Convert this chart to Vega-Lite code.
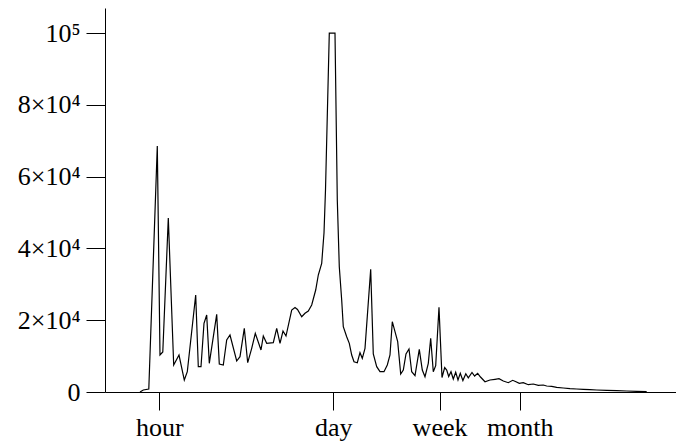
{
  "$schema": "https://vega.github.io/schema/vega-lite/v6.json",
  "width": 571,
  "height": 384,
  "autosize": "none",
  "padding": {"left": 105, "top": 8, "right": 0, "bottom": 49},
  "background": "white",
  "config": {
    "view": {"stroke": null},
    "axis": {
      "grid": false,
      "domainColor": "black",
      "domainWidth": 1,
      "tickColor": "black",
      "tickWidth": 1,
      "labelColor": "black",
      "labelFont": "Liberation Serif",
      "labelFontSize": 26,
      "labelFontWeight": "normal",
      "labelOverlap": false,
      "labelFlush": false,
      "titleFont": "Liberation Serif"
    }
  },
  "data": {
    "values": [
      {"hours": 0.7006, "count": 0},
      {"hours": 0.7442, "count": 557},
      {"hours": 0.8230, "count": 836},
      {"hours": 0.9614, "count": 68536},
      {"hours": 1.0101, "count": 10308},
      {"hours": 1.0632, "count": 11144},
      {"hours": 1.1758, "count": 48476},
      {"hours": 1.2978, "count": 7522},
      {"hours": 1.4300, "count": 10308},
      {"hours": 1.5756, "count": 3343},
      {"hours": 1.6645, "count": 5656},
      {"hours": 1.9409, "count": 27024},
      {"hours": 2.0356, "count": 7049},
      {"hours": 2.1386, "count": 7049},
      {"hours": 2.2592, "count": 19140},
      {"hours": 2.3737, "count": 21452},
      {"hours": 2.4893, "count": 7996},
      {"hours": 2.8502, "count": 21647},
      {"hours": 2.9890, "count": 7801},
      {"hours": 3.2160, "count": 7522},
      {"hours": 3.4223, "count": 14487},
      {"hours": 3.6353, "count": 15880},
      {"hours": 4.1093, "count": 8637},
      {"hours": 4.3652, "count": 9835},
      {"hours": 4.7224, "count": 17747},
      {"hours": 5.0254, "count": 8163},
      {"hours": 5.4069, "count": 12175},
      {"hours": 5.7751, "count": 16354},
      {"hours": 6.4099, "count": 11701},
      {"hours": 6.6853, "count": 15602},
      {"hours": 7.1142, "count": 13568},
      {"hours": 8.0273, "count": 13735},
      {"hours": 8.5426, "count": 17747},
      {"hours": 9.0743, "count": 13568},
      {"hours": 9.5862, "count": 16995},
      {"hours": 10.127, "count": 15602},
      {"hours": 11.240, "count": 22845},
      {"hours": 11.940, "count": 23542},
      {"hours": 12.499, "count": 22985},
      {"hours": 13.497, "count": 20979},
      {"hours": 14.336, "count": 21926},
      {"hours": 15.229, "count": 22567},
      {"hours": 16.206, "count": 24238},
      {"hours": 17.436, "count": 28417},
      {"hours": 18.286, "count": 32596},
      {"hours": 19.460, "count": 35856},
      {"hours": 20.296, "count": 44297},
      {"hours": 20.860, "count": 56277},
      {"hours": 22.362, "count": 100000},
      {"hours": 24.820, "count": 100000},
      {"hours": 25.886, "count": 53491},
      {"hours": 26.850, "count": 34909},
      {"hours": 28.056, "count": 25631},
      {"hours": 28.889, "count": 18193},
      {"hours": 30.744, "count": 15407},
      {"hours": 32.242, "count": 13568},
      {"hours": 33.689, "count": 10308},
      {"hours": 35.136, "count": 8442},
      {"hours": 37.324, "count": 8163},
      {"hours": 39.214, "count": 10949},
      {"hours": 40.899, "count": 9389},
      {"hours": 42.969, "count": 12175},
      {"hours": 47.691, "count": 34184},
      {"hours": 50.015, "count": 10587},
      {"hours": 53.226, "count": 7049},
      {"hours": 56.538, "count": 5656},
      {"hours": 60.830, "count": 5656},
      {"hours": 64.615, "count": 7522},
      {"hours": 67.887, "count": 10308},
      {"hours": 70.806, "count": 19586},
      {"hours": 74.391, "count": 16800},
      {"hours": 78.158, "count": 14014},
      {"hours": 82.567, "count": 5015},
      {"hours": 86.590, "count": 6129},
      {"hours": 90.975, "count": 10587},
      {"hours": 96.107, "count": 11980},
      {"hours": 100.97, "count": 5656},
      {"hours": 107.26, "count": 4541},
      {"hours": 116.04, "count": 11896},
      {"hours": 122.59, "count": 6129},
      {"hours": 128.78, "count": 4263},
      {"hours": 136.81, "count": 7996},
      {"hours": 142.94, "count": 14961},
      {"hours": 149.91, "count": 5656},
      {"hours": 156.63, "count": 7327},
      {"hours": 166.38, "count": 23597},
      {"hours": 175.77, "count": 4040},
      {"hours": 184.67, "count": 6826},
      {"hours": 191.56, "count": 6129},
      {"hours": 198.70, "count": 4318},
      {"hours": 207.23, "count": 5656},
      {"hours": 216.14, "count": 3622},
      {"hours": 225.84, "count": 5516},
      {"hours": 235.54, "count": 3343},
      {"hours": 245.67, "count": 5210},
      {"hours": 257.64, "count": 3204},
      {"hours": 271.67, "count": 5071},
      {"hours": 284.39, "count": 3956},
      {"hours": 304.31, "count": 5433},
      {"hours": 319.13, "count": 4458},
      {"hours": 337.75, "count": 5210},
      {"hours": 355.51, "count": 4179},
      {"hours": 386.02, "count": 2870},
      {"hours": 422.99, "count": 3343},
      {"hours": 463.52, "count": 3538},
      {"hours": 498.70, "count": 3705},
      {"hours": 539.51, "count": 3065},
      {"hours": 591.20, "count": 2591},
      {"hours": 640.75, "count": 3260},
      {"hours": 680.62, "count": 2870},
      {"hours": 722.99, "count": 2424},
      {"hours": 777.88, "count": 2591},
      {"hours": 852.39, "count": 2034},
      {"hours": 934.02, "count": 2229},
      {"hours": 1023.5, "count": 1867},
      {"hours": 1121.5, "count": 1950},
      {"hours": 1193.5, "count": 1672},
      {"hours": 1307.8, "count": 1588},
      {"hours": 1433.1, "count": 1309},
      {"hours": 1617.1, "count": 1114},
      {"hours": 1827.9, "count": 919},
      {"hours": 2066.2, "count": 836},
      {"hours": 2331.4, "count": 752},
      {"hours": 2635.5, "count": 641},
      {"hours": 2979.1, "count": 557},
      {"hours": 3577.1, "count": 474},
      {"hours": 4295.2, "count": 362},
      {"hours": 5157.3, "count": 279},
      {"hours": 6194.4, "count": 195},
      {"hours": 7436.2, "count": 84}
    ]
  },
  "mark": {"type": "line", "color": "black", "strokeWidth": 1.2, "clip": true},
  "encoding": {
    "x": {
      "field": "hours",
      "type": "quantitative",
      "scale": {"type": "log", "domain": [0.3693, 12713], "nice": false, "zero": false},
      "axis": {
        "title": null,
        "values": [1, 24, 168, 730],
        "tickSize": 18,
        "labelPadding": 4,
        "labelExpr": "datum.value == 1 ? 'hour' : datum.value == 24 ? 'day' : datum.value == 168 ? 'week' : 'month'"
      }
    },
    "y": {
      "field": "count",
      "type": "quantitative",
      "scale": {"domain": [0, 107000], "nice": false, "zero": true},
      "axis": {
        "title": null,
        "values": [0, 20000, 40000, 60000, 80000, 100000],
        "tickSize": 19,
        "labelPadding": 6,
        "labelExpr": "datum.value == 0 ? '0' : datum.value == 100000 ? '10⁵' : (datum.value / 10000) + '×10⁴'"
      }
    }
  }
}
